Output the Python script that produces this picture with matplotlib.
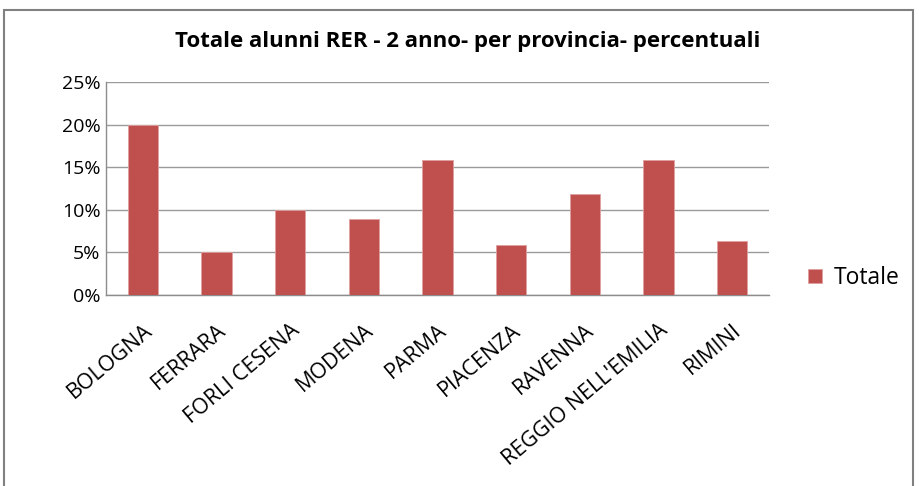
import matplotlib.pyplot as plt
from matplotlib.patches import Rectangle
from matplotlib.ticker import FuncFormatter

province = ['BOLOGNA', 'FERRARA', 'FORLI CESENA', 'MODENA', 'PARMA',
            'PIACENZA', 'RAVENNA', "REGGIO NELL'EMILIA", 'RIMINI']
totale = [20.0, 5.0, 10.0, 8.9, 15.9, 5.9, 11.9, 15.8, 6.4]
y_ticks = [0, 5, 10, 15, 20, 25]

plt.rcParams['font.family'] = ['Open Sans', 'DejaVu Sans']

fig = plt.figure(figsize=(9.19, 4.86), dpi=100)
fig.patches.append(Rectangle((0.004, -0.05), 0.990, 1.03, transform=fig.transFigure,
                             fill=False, edgecolor='#808080', linewidth=1.5))

ax = fig.add_axes([0.1153, 0.393, 0.7215, 0.438])
x = range(len(province))
ax.bar(x, totale, width=0.41, color='#C0504D', edgecolor='#E0A0A0',
       linewidth=0.6, label='Totale', zorder=3)

ax.set_xlim(-0.5, len(province) - 0.5)
ax.set_ylim(0, 25)
ax.set_yticks(y_ticks)
ax.yaxis.set_major_formatter(FuncFormatter(lambda v, _: f'{v:.0f}%'))
ax.grid(axis='y', color='#9a9a9a', linewidth=1.0, zorder=0)
ax.set_axisbelow(True)

# rotated province labels, anchored at their top-right end
ax.set_xticks(list(x))
ax.set_xticklabels(province, rotation=40, ha='right', rotation_mode='anchor', fontsize=15.5)
ax.tick_params(axis='x', length=0, pad=18)
ax.tick_params(axis='y', length=0, pad=4, labelsize=14)

for side in ['top', 'right']:
    ax.spines[side].set_visible(False)
for side in ['left', 'bottom']:
    ax.spines[side].set_color('#8c8c8c')
    ax.spines[side].set_linewidth(1.0)

fig.text(0.509, 0.914, 'Totale alunni RER - 2 anno- per provincia- percentuali',
         ha='center', va='center', fontsize=16, fontweight='bold')

ax.legend(loc='center left', bbox_to_anchor=(1.028, 0.08), frameon=False,
          fontsize=16.5, handlelength=0.6, handleheight=0.6, handletextpad=0.5)

fig.savefig('out.png', dpi=100)
